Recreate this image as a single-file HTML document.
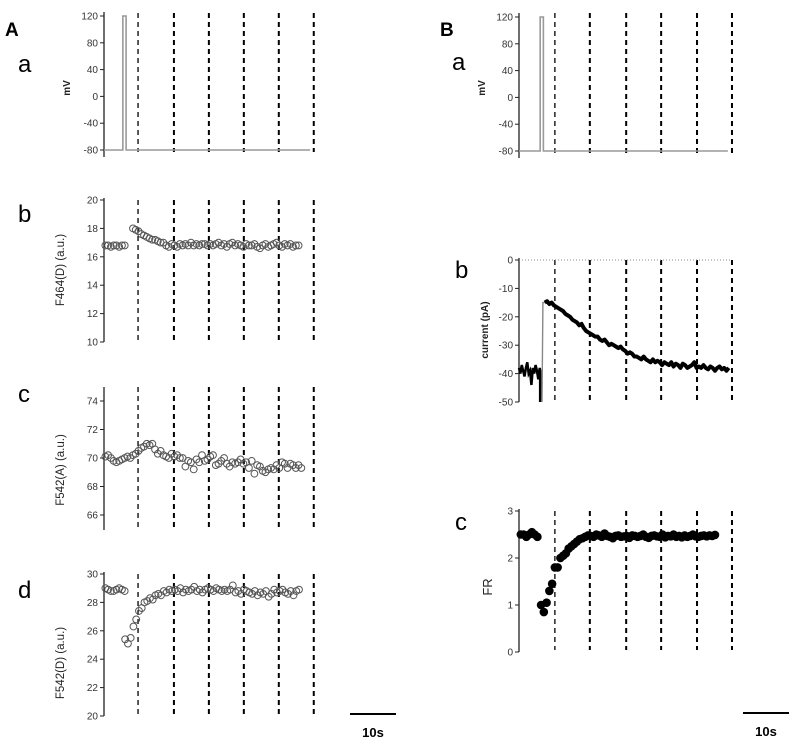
<!DOCTYPE html>
<html><head><meta charset="utf-8">
<style>
html,body{margin:0;padding:0;background:#fff;}
svg{display:block;font-family:"Liberation Sans",sans-serif;}
</style></head>
<body>
<svg id="fig" width="796" height="746" viewBox="0 0 796 746" xmlns="http://www.w3.org/2000/svg">
<text x="5" y="36" font-size="19" font-weight="bold">A</text>
<text x="440" y="36" font-size="19" font-weight="bold">B</text>
<text x="18" y="72" font-size="24">a</text>
<text x="18" y="222" font-size="24">b</text>
<text x="18" y="402" font-size="24">c</text>
<text x="18" y="598" font-size="24">d</text>
<text x="452" y="70" font-size="24">a</text>
<text x="455" y="278" font-size="24">b</text>
<text x="455" y="530" font-size="24">c</text>
<line x1="350" y1="714" x2="396" y2="714" stroke="#000" stroke-width="2"/>
<text x="373" y="737" font-size="13" font-weight="bold" text-anchor="middle">10s</text>
<line x1="743" y1="713" x2="789" y2="713" stroke="#000" stroke-width="2"/>
<text x="766" y="736" font-size="13" font-weight="bold" text-anchor="middle">10s</text>
</svg>
<script>
// ---- data ----
const dashTimesA = [7.4, 15.2, 22.8, 30.4, 38.0, 45.6];
const dashTimesB = [7.8, 15.4, 23.3, 30.9, 38.7, 46.3];
const ticksMv = [120, 80, 40, 0, -40, -80];
const ticksAb = [20, 18, 16, 14, 12, 10];
const ticksAc = [74, 72, 70, 68, 66];
const ticksAd = [30, 28, 26, 24, 22, 20];
const ticksBb = [0, -10, -20, -30, -40, -50];
const ticksBc = [3, 2, 1, 0];
const spikeA = [4.1, 4.8];
const spikeB = [4.6, 5.3];
const dt = 0.6;
const abPre = [16.8,16.8,16.7,16.8,16.8,16.7,16.8,16.8];
const abPost = [18.0,17.9,17.8,17.6,17.5,17.4,17.3,17.2,17.2,17.1,17.0,17.0,16.8,16.7,16.9,16.8,16.7,16.9,16.8,16.9,16.8,17.0,16.8,16.9,16.8,16.9,16.9,16.8,16.9,16.8,16.9,17.0,16.8,16.9,16.7,16.9,17.0,16.8,16.9,16.8,16.7,16.9,16.8,16.8,16.9,16.7,16.6,16.8,16.9,16.7,16.8,16.9,17.0,16.8,16.7,16.9,16.8,16.9,16.7,16.8,16.8];
const acVals = [70.1,70.2,70.0,69.8,69.7,69.8,69.9,70.0,70.1,70.0,70.2,70.3,70.5,70.7,70.8,71.0,70.9,71.0,70.6,70.3,70.5,70.2,70.1,70.0,70.3,70.1,70.2,70.0,70.0,69.4,69.8,69.7,69.2,69.9,69.7,70.2,69.8,69.9,70.1,70.2,69.5,69.6,69.8,70.0,69.6,69.4,69.7,69.6,69.7,69.9,69.6,69.7,69.3,69.8,68.9,69.5,69.4,69.1,69.0,69.2,69.3,69.2,69.5,69.3,69.7,69.6,69.3,69.6,69.5,69.3,69.5,69.3];
const adPre = [29.0,28.9,28.8,28.8,28.9,29.0,28.9,28.8];
const adPost = [25.4,25.1,25.5,26.3,26.8,27.4,27.6,28.0,28.1,28.3,28.2,28.5,28.6,28.5,28.8,28.7,28.9,28.8,28.9,28.8,29.0,28.7,28.9,28.8,28.9,29.1,28.8,28.9,28.7,28.9,29.0,28.9,28.8,29.0,28.9,28.8,28.9,28.8,28.9,29.2,28.7,28.8,28.6,28.9,28.8,28.7,28.6,28.8,28.5,28.7,28.6,28.8,28.4,28.6,28.9,28.7,28.8,28.9,28.7,28.6,28.8,28.5,28.8,28.9];
const bcPre = [2.5,2.5,2.45,2.5,2.55,2.5,2.45];
const bcPost = [1.0,0.85,1.05,1.3,1.45,1.8,1.8,2.0,2.05,2.1,2.2,2.25,2.3,2.35,2.4,2.42,2.45,2.48,2.47,2.45,2.5,2.48,2.45,2.52,2.47,2.45,2.42,2.47,2.48,2.45,2.46,2.47,2.43,2.48,2.47,2.45,2.47,2.5,2.45,2.43,2.47,2.48,2.46,2.45,2.5,2.44,2.47,2.46,2.5,2.45,2.47,2.44,2.48,2.45,2.47,2.5,2.46,2.45,2.47,2.48,2.46,2.48,2.47,2.49];
const bbPre = [-38,-40,-37,-39,-41,-38,-36,-40,-39,-44,-38,-40,-37,-39,-42,-38];
const bbPost = [-15,-14.5,-15.5,-15,-16,-16.5,-17,-17.5,-18,-19,-19.5,-20,-21,-21.5,-22,-23,-22.5,-24,-25,-25.5,-26,-26.5,-27,-27,-28,-28.5,-28,-29,-30,-29.5,-30,-30.5,-31,-30.5,-31.5,-32,-33,-32.5,-33,-34,-34,-34.5,-35,-34,-35,-35.5,-36,-35,-36,-35.5,-36,-37,-36,-36.5,-37,-36,-37.5,-36.5,-37,-38,-36.5,-37,-38,-37.5,-37,-36,-38,-37.5,-38,-37,-38,-38.5,-37.5,-38,-39,-38,-37.5,-38.5,-38,-39,-38];

// ---- drawing ----
const svg = document.getElementById('fig');
const NS = 'http://www.w3.org/2000/svg';
function mk(tag, attrs){ const e=document.createElementNS(NS,tag); for(const k in attrs) e.setAttribute(k,attrs[k]); svg.appendChild(e); return e; }
const PX = 4.6;
function panel(x0, v1, y1, v2, y2){
  const s=(y2-y1)/(v2-v1);
  return {X:t=>x0+t*PX, Y:v=>y1+(v-v1)*s, x0};
}
function axis(p, ticks, top, bot, name, title, tx, ty, tsize, tweight){
  const a=mk('line',{x1:p.x0,y1:top,x2:p.x0,y2:bot,stroke:'#222','stroke-width':1.3});
  
  
  ticks.forEach(v=>{
    const tk=mk('line',{x1:p.x0-4,y1:p.Y(v),x2:p.x0,y2:p.Y(v),stroke:'#222','stroke-width':1});
    
    
    const tl=mk('text',{x:p.x0-6,y:p.Y(v)+3.5,'font-size':10,'text-anchor':'end',fill:'#333'});
    tl.textContent=v;
    
    
  });
  const t=mk('text',{x:tx,y:ty,'font-size':tsize,'font-weight':tweight,'text-anchor':'middle',transform:`rotate(-90 ${tx} ${ty})`,fill:'#222'});
  t.textContent=title;
  
  
}
function dashes(p, times, top, bot, name){
  times.forEach((tm,i)=>{
    const l=mk('line',{x1:p.X(tm),y1:top,x2:p.X(tm),y2:bot,stroke:'#000','stroke-width':i===0?1.3:2,'stroke-dasharray':'5 4'});
    
    
  });
}
function circles(p, vals, t0, name, filled){
  vals.forEach((v,i)=>{
    const c=mk('circle',{cx:p.X(t0+i*dt),cy:p.Y(v),r:filled?3.8:3.4,fill:filled?'#000':'none',stroke:filled?'#000':'#555','stroke-width':1});
    
    
  });
}
function voltage(p, spike, tEnd, name){
  const pts=[[0,-80],[spike[0],-80],[spike[0],120],[spike[1],120],[spike[1],-80],[tEnd,-80]].map(q=>p.X(q[0])+','+p.Y(q[1])).join(' ');
  const l=mk('polyline',{points:pts,fill:'none',stroke:'#999','stroke-width':1.6});
  
  
}

// Aa
const Aa=panel(104,120,16,-80,150);
axis(Aa,ticksMv,12,157,'aa','mV',70,88,10,'bold');
dashes(Aa,dashTimesA,13,152,'aa');
voltage(Aa,spikeA,44.8,'aa');
// Ab
const Ab=panel(104,20,200,10,342);
axis(Ab,ticksAb,198,342,'ab','F464(D) (a.u.)',64,270,11.5,'normal');
dashes(Ab,dashTimesA,200,342,'ab');
circles(Ab,abPre,0.3,'ab-pre');
circles(Ab,abPost,6.3,'ab-post');
// Ac
const Ac=panel(104,74,401,66,515);
axis(Ac,ticksAc,387,530,'ac','F542(A)  (a.u.)',64,470,11.5,'normal');
dashes(Ac,dashTimesA,387,527,'ac');
circles(Ac,acVals,0.3,'ac');
// Ad
const Ad=panel(104,30,574,20,716);
axis(Ad,ticksAd,572,716,'ad','F542(D)  (a.u.)',64,663,11.5,'normal');
dashes(Ad,dashTimesA,574,714,'ad');
circles(Ad,adPre,0.3,'ad-pre');
circles(Ad,adPost,4.6,'ad-post');
// Ba
const Ba=panel(519,120,17,-80,151);
axis(Ba,ticksMv,13,158,'ba','mV',485,88,10,'bold');
dashes(Ba,dashTimesB,13,153,'ba');
voltage(Ba,spikeB,45.4,'ba');
// Bb
const Bb=panel(519,0,260,-50,402);
axis(Bb,ticksBb,258,402,'bb','current (pA)',488,330,10,'bold');
dashes(Bb,dashTimesB,260,402,'bb');
const z=mk('line',{x1:519,y1:Bb.Y(0),x2:732,y2:Bb.Y(0),stroke:'#888','stroke-width':1,'stroke-dasharray':'1 2'});


const prePts=bbPre.map((v,i)=>Bb.X(i*0.3)+','+Bb.Y(v));
prePts.push(Bb.X(4.6)+','+Bb.Y(-39)); prePts.push(Bb.X(4.6)+','+Bb.Y(-50));
const pl1=mk('polyline',{points:prePts.join(' '),fill:'none',stroke:'#000','stroke-width':2.5});


const g=mk('polyline',{points:[Bb.X(5.0)+','+Bb.Y(-50),Bb.X(5.2)+','+Bb.Y(-15),Bb.X(5.6)+','+Bb.Y(bbPost[0])].join(' '),fill:'none',stroke:'#888','stroke-width':1.4});


const pl2=mk('polyline',{points:bbPost.map((v,i)=>Bb.X(5.6+i*0.5)+','+Bb.Y(v)).join(' '),fill:'none',stroke:'#000','stroke-width':4,'stroke-linejoin':'round'});


// Bc
const Bc=panel(519,3,511,0,652);
axis(Bc,ticksBc,509,652,'bc','FR',492,587,13,'normal');
dashes(Bc,dashTimesB,511,650,'bc');
circles(Bc,bcPre,0.4,'bc-pre',true);
circles(Bc,bcPost,4.8,'bc-post',true);
</script>
</body></html>
